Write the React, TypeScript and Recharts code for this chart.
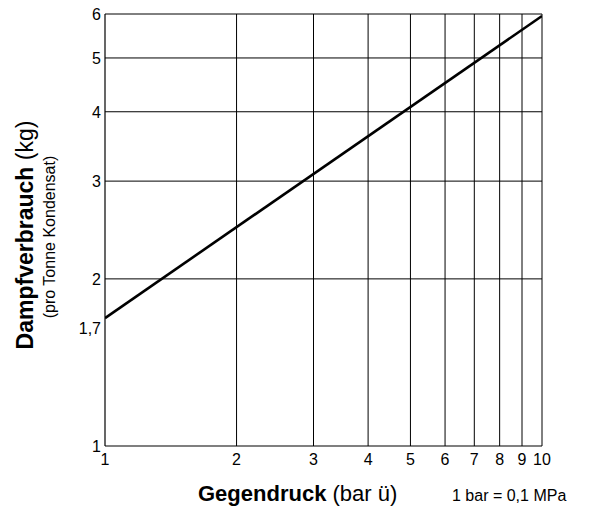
import { LineChart, Line, XAxis, YAxis, ReferenceLine } from "recharts";

const pressure = [1, 10];
const steam = [1.7, 5.95];
const xTicks = [1, 2, 3, 4, 5, 6, 7, 8, 9, 10];
const yTicks = [1, 1.7, 2, 3, 4, 5, 6];
const xGrid = [2, 3, 4, 5, 6, 7, 8, 9, 10];
const yGrid = [2, 3, 4, 5, 6];

const data = pressure.map((x, i) => ({ x, y: steam[i] }));

const FONT = "'Liberation Sans', Arial, Helvetica, sans-serif";

function YTick({ x, y, payload }: any) {
  const v = payload.value;
  return (
    <text
      x={x}
      y={y}
      dy={v === 1.7 ? 15.5 : 6}
      textAnchor="end"
      fill="#000"
      fontSize={16}
      fontFamily={FONT}
    >
      {String(v).replace(".", ",")}
    </text>
  );
}

export default function App() {
  return (
    <div style={{ position: "absolute", left: 0, top: 0, background: "#fff" }}>
      <LineChart
        width={592}
        height={506}
        data={data}
        margin={{ top: 14, right: 50, bottom: 0, left: 0 }}
        style={{ fontFamily: FONT }}
      >
        <XAxis
          dataKey="x"
          type="number"
          scale="log"
          domain={[1, 10]}
          ticks={xTicks}
          interval={0}
          allowDataOverflow
          height={60}
          tickLine={false}
          axisLine={{ stroke: "#000", strokeWidth: 1.2 }}
          tick={{ fill: "#000", fontSize: 16, fontFamily: FONT }}
        />
        <YAxis
          dataKey="y"
          type="number"
          scale="log"
          domain={[1, 6]}
          ticks={yTicks}
          interval={0}
          allowDataOverflow
          width={105}
          tickLine={false}
          tickSize={2}
          tickMargin={2}
          axisLine={{ stroke: "#000", strokeWidth: 1.2 }}
          tick={<YTick />}
        />
        {xGrid.map((v) => (
          <ReferenceLine key={"x" + v} x={v} stroke="#000" strokeWidth={1} />
        ))}
        {yGrid.map((v) => (
          <ReferenceLine key={"y" + v} y={v} stroke="#000" strokeWidth={1} />
        ))}
        <Line
          type="linear"
          dataKey="y"
          stroke="#000"
          strokeWidth={2.6}
          dot={false}
          isAnimationActive={false}
        />
        <text
          transform="translate(33,235) rotate(-90)"
          textAnchor="middle"
          fill="#000"
          fontSize={23}
          fontFamily={FONT}
        >
          <tspan fontWeight="bold">Dampfverbrauch</tspan>
          <tspan> (kg)</tspan>
        </text>
        <text
          transform="translate(55,237) rotate(-90)"
          textAnchor="middle"
          fill="#000"
          fontSize={16}
          fontFamily={FONT}
        >
          (pro Tonne Kondensat)
        </text>
        <text x={198} y={501} fill="#000" fontSize={22} fontFamily={FONT}>
          <tspan fontWeight="bold">Gegendruck</tspan>
          <tspan> (bar ü)</tspan>
        </text>
        <text x={452} y={501} fill="#000" fontSize={16} fontFamily={FONT}>
          1 bar = 0,1 MPa
        </text>
      </LineChart>
    </div>
  );
}
